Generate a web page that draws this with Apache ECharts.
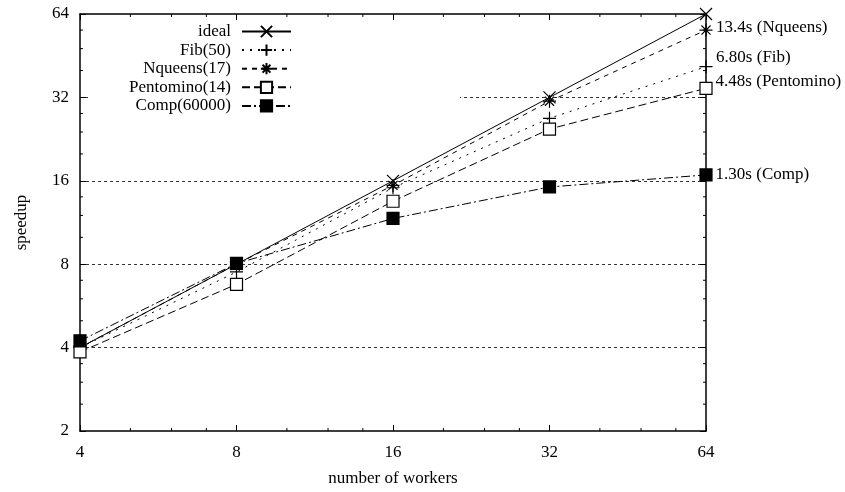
<!DOCTYPE html>
<html><head><meta charset="utf-8">
<script src="https://cdn.jsdelivr.net/npm/echarts/dist/echarts.min.js"></script>
<style>html,body{margin:0;padding:0;background:#fff}#c{width:845px;height:492px}</style>
</head><body><div id="c"></div>
<script>
// ---- data ----
const workers   = [4, 8, 16, 32, 64];
const ideal     = [4, 8, 16, 32, 64];
const fib       = [4.0, 7.5, 15.1, 26.9, 41.3];
const nqueens   = [4.0, 8.0, 15.4, 31.0, 56.0];
const pentomino = [3.86, 6.77, 13.5, 24.6, 34.5];
const comp      = [4.23, 8.05, 11.7, 15.2, 16.8];

const seriesNames = ['ideal', 'Fib(50)', 'Nqueens(17)', 'Pentomino(14)', 'Comp(60000)'];
const endLabels   = [null, '6.80s (Fib)', '13.4s (Nqueens)', '4.48s (Pentomino)', '1.30s (Comp)'];
const xTickLabels = [4, 8, 16, 32, 64];
const yTickLabels = [2, 4, 8, 16, 32, 64];
const minorXTicks = [5, 6, 7, 10, 12, 14, 20, 24, 28, 40, 48, 56];
const minorYTicks = [2.5, 3, 3.5, 5, 6, 7, 10, 12, 14, 20, 24, 28, 40, 48, 56];

// ---- styles ----
const FONT = 'Liberation Serif';
const sym = {
  cross: 'path://M0,0L10,10M10,0L0,10',
  plus: 'path://M5,0L5,10M0,5L10,5',
  star: 'path://M5,0L5,10M0,5L10,5M1.5,1.5L8.5,8.5M8.5,1.5L1.5,8.5'
};
const styles = [
  {symbol: sym.cross, dash: 'solid', fill: '#000', size: 12},
  {symbol: sym.plus, dash: [2, 6], fill: '#000', size: 13},
  {symbol: sym.star, dash: [5, 5], fill: '#000', size: 13},
  {symbol: 'rect', dash: [8, 4], fill: '#fff', size: 12},
  {symbol: 'rect', dash: [9, 3, 2, 3], fill: '#000', size: 12}
];
const labelOffsets = [null, [0, -9], [0, -3], [0, -7], [0, 0]];
const allValues = [ideal, fib, nqueens, pentomino, comp];

const lineSeries = allValues.map((vals, i) => {
  const st = styles[i];
  return {
    type: 'line',
    name: seriesNames[i],
    clip: false,
    symbol: st.symbol,
    symbolSize: st.size,
    color: '#000',
    lineStyle: {color: '#000', width: 1, type: st.dash},
    itemStyle: {color: st.fill, borderColor: '#000', borderWidth: 1.2},
    emphasis: {disabled: true},
    z: 2 + i,
    data: vals.map((v, j) => {
      const item = {value: [workers[j], v]};
      if (j === vals.length - 1 && endLabels[i]) {
        item.label = {
          show: true, position: 'right', distance: 3, offset: labelOffsets[i],
          formatter: endLabels[i], color: '#000', fontFamily: FONT, fontSize: 17
        };
      }
      return item;
    })
  };
});

const minorData = [];
minorXTicks.forEach(v => { minorData.push([v, 2, 0]); minorData.push([v, 64, 1]); });
minorYTicks.forEach(v => { minorData.push([4, v, 2]); minorData.push([64, v, 3]); });

const minorSeries = {
  type: 'custom', name: '_minor', silent: true, clip: false, z: 10,
  encode: {x: 0, y: 1},
  data: minorData,
  renderItem: function (params, api) {
    const p = api.coord([api.value(0), api.value(1)]);
    const side = api.value(2), L = 3;
    let x2 = p[0], y2 = p[1];
    if (side === 0) y2 -= L; else if (side === 1) y2 += L;
    else if (side === 2) x2 += L; else x2 -= L;
    return {type: 'line', shape: {x1: p[0], y1: p[1], x2: x2, y2: y2},
            style: {stroke: '#000', lineWidth: 1}};
  }
};

const axisCommon = {
  type: 'log', logBase: 2,
  axisLine: {show: true, lineStyle: {color: '#000', width: 1.5}},
  axisTick: {show: true, inside: true, length: 6, lineStyle: {color: '#000', width: 1}},
  minorTick: {show: false},
  splitLine: {show: false}
};

const chart = echarts.init(document.getElementById('c'));
chart.setOption({
  animation: false,
  backgroundColor: '#fff',
  textStyle: {fontFamily: FONT, color: '#000'},
  grid: {left: 80, right: 139, top: 14, bottom: 61, outerBoundsMode: 'none', containLabel: false},
  legend: {
    data: seriesNames,
    orient: 'vertical',
    right: 385, top: 20,
    padding: [3, 168, 4, 41],
    align: 'right',
    backgroundColor: '#fff',
    itemWidth: 49, itemHeight: 14, itemGap: 1.6,
    textStyle: {fontFamily: FONT, fontSize: 17, color: '#000', lineHeight: 17, padding: [0, 6, 0, 0]},
    z: 20
  },
  xAxis: [
    Object.assign({}, axisCommon, {
      position: 'bottom', min: 4, max: 64,
      name: 'number of workers', nameLocation: 'middle', nameGap: 39,
      nameTextStyle: {fontFamily: FONT, fontSize: 17, color: '#000'},
      axisLabel: {show: true, margin: 13, fontFamily: FONT, fontSize: 17, color: '#000',
                  formatter: v => xTickLabels.includes(Math.round(v)) ? String(Math.round(v)) : ''}
    }),
    Object.assign({}, axisCommon, {
      position: 'top', min: 4, max: 64, axisLabel: {show: false}
    })
  ],
  yAxis: [
    Object.assign({}, axisCommon, {
      position: 'left', min: 2, max: 64,
      name: 'speedup', nameLocation: 'middle', nameGap: 50,
      nameTextStyle: {fontFamily: FONT, fontSize: 17, color: '#000'},
      axisLabel: {show: true, margin: 11, fontFamily: FONT, fontSize: 17, color: '#000',
                  formatter: v => yTickLabels.includes(Math.round(v)) ? String(Math.round(v)) : ''},
      splitLine: {show: true, showMinLine: false, showMaxLine: false,
                  lineStyle: {color: '#333', width: 1, type: [3, 3]}}
    }),
    Object.assign({}, axisCommon, {
      position: 'right', min: 2, max: 64, axisLabel: {show: false}
    })
  ],
  series: lineSeries.concat([minorSeries])
});
</script>
</body></html>
